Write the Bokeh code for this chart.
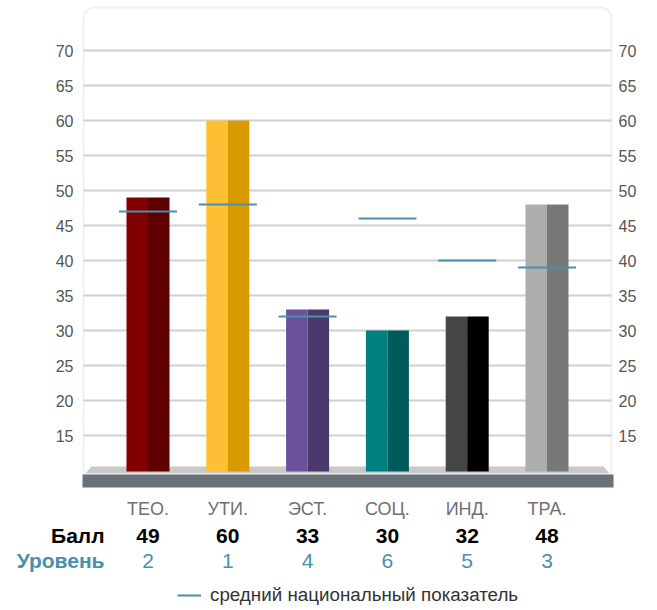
import numpy as np
from bokeh.plotting import figure
from bokeh.models import (Range1d, LinearAxis, FixedTicker, BoxAnnotation, Label,
                          ColumnDataSource, Legend, LegendItem)
from bokeh.core.properties import value
from bokeh.embed import file_html
from bokeh.resources import INLINE

# ---- data ----
categories = ["ТЕО.", "УТИ.", "ЭСТ.", "СОЦ.", "ИНД.", "ТРА."]
scores = [49, 60, 33, 30, 32, 48]
levels = [2, 1, 4, 6, 5, 3]
national_avg = [47, 48, 32, 46, 40, 39]
light_colors = ["#800000", "#fdbf33", "#6a519a", "#008080", "#454545", "#adadad"]
dark_colors = ["#5e0000", "#d99a00", "#4b386c", "#005c5c", "#000000", "#787878"]
y_ticks = [15, 20, 25, 30, 35, 40, 45, 50, 55, 60, 65, 70]
row_labels = ["Балл", "Уровень"]
legend_label = "средний национальный показатель"

# ---- layout (canvas pixels) ----
W, H = 657, 610
CX0, XS = 147.5, 79.8
Y70, YS = 50.0, 7.0
FONT = "Liberation Sans"
BLUE = "#4a8fab"


def dx(px):
    return (px - CX0) / XS


def dy(py):
    return 70 - (py - Y70) / YS


p = figure(width=W, height=H, output_backend="svg", toolbar_location=None,
           x_range=Range1d(dx(0), dx(W)), y_range=Range1d(dy(H), dy(0)),
           x_axis_location=None, y_axis_location=None,
           min_border_left=0, min_border_right=0, min_border_top=0, min_border_bottom=0,
           outline_line_color=None, background_fill_color="white", border_fill_color="white")
p.xgrid.visible = False
p.ygrid.visible = False

# axes drawn at the frame's edges
left_axis = LinearAxis(fixed_location=dx(83))
right_axis = LinearAxis(fixed_location=dx(611))
p.add_layout(left_axis, "left")
p.add_layout(right_axis, "right")
for ax, standoff in ((left_axis, 10), (right_axis, 7)):
    ax.ticker = FixedTicker(ticks=y_ticks)
    ax.axis_line_color = None
    ax.major_tick_line_color = None
    ax.minor_tick_line_color = None
    ax.major_tick_in = 0
    ax.major_tick_out = 0
    ax.major_label_standoff = standoff
    ax.major_label_text_font = FONT
    ax.major_label_text_font_size = "16px"
    ax.major_label_text_color = "#555555"

# gridlines between the frame edges
p.segment(x0=dx(83), x1=dx(611), y0=y_ticks, y1=y_ticks,
          line_color="#d0d0d0", line_width=2)

# rounded frame
p.add_layout(BoxAnnotation(left=dx(83), right=dx(611), top=dy(7), bottom=dy(480),
                           fill_color=None, fill_alpha=0, line_color="#d0d0d0", line_width=2,
                           border_radius=11, level="underlay"))

# platform
p.patch(x=[dx(85), dx(91), dx(603), dx(609)], y=[dy(473), dy(466), dy(466), dy(473)],
        fill_color="#c9c9c7", line_color=None)
p.quad(left=dx(82), right=dx(613), top=dy(474), bottom=dy(487),
       fill_color="#69727b", line_color=None)

xs = np.arange(len(categories), dtype=float)
HALF = 21.5 / XS
AVG_HALF = 29.0 / XS
base = dy(471)

src = ColumnDataSource(dict(
    xl=xs - HALF / 2, xd=xs + HALF / 2, x=xs,
    top=scores, light=light_colors, dark=dark_colors,
    x0=xs - AVG_HALF, x1=xs + AVG_HALF, avg=national_avg,
    cat=categories, score=[str(s) for s in scores], level=[str(l) for l in levels],
))

p.vbar(x="xl", width=HALF, top="top", bottom=base, fill_color="light", line_color=None, source=src)
p.vbar(x="xd", width=HALF, top="top", bottom=base, fill_color="dark", line_color=None, source=src)
avg_r = p.segment(x0="x0", x1="x1", y0="avg", y1="avg", line_color=BLUE, line_width=2, source=src)

p.text(x="x", y=dy(508), text="cat", source=src, text_align="center", text_baseline="middle",
       text_font=value(FONT), text_font_size="18px", text_color="#707070")
p.text(x="x", y=dy(535), text="score", source=src, text_align="center", text_baseline="middle",
       text_font=value(FONT), text_font_size="21px", text_font_style="bold", text_color="#000000")
p.text(x="x", y=dy(560), text="level", source=src, text_align="center", text_baseline="middle",
       text_font=value(FONT), text_font_size="21px", text_color=BLUE)

p.add_layout(Label(x=dx(104), y=dy(535), text=row_labels[0], text_align="right",
                   text_baseline="middle", text_font=FONT, text_font_size="21px",
                   text_font_style="bold", text_color="#000000"))
p.add_layout(Label(x=dx(104), y=dy(560), text=row_labels[1], text_align="right",
                   text_baseline="middle", text_font=FONT, text_font_size="21px",
                   text_font_style="bold", text_color=BLUE))

legend = Legend(items=[LegendItem(label=legend_label, renderers=[avg_r])],
                location=(177, 610 - 598 - 8), orientation="horizontal",
                glyph_width=24, glyph_height=16, label_height=16, label_standoff=9,
                padding=0, margin=0, spacing=0, border_line_color=None,
                background_fill_alpha=0, label_text_font=FONT,
                label_text_font_size="18.8px", label_text_color="#333333")
p.add_layout(legend, "center")

open("out.html", "w").write(file_html(p, INLINE))
